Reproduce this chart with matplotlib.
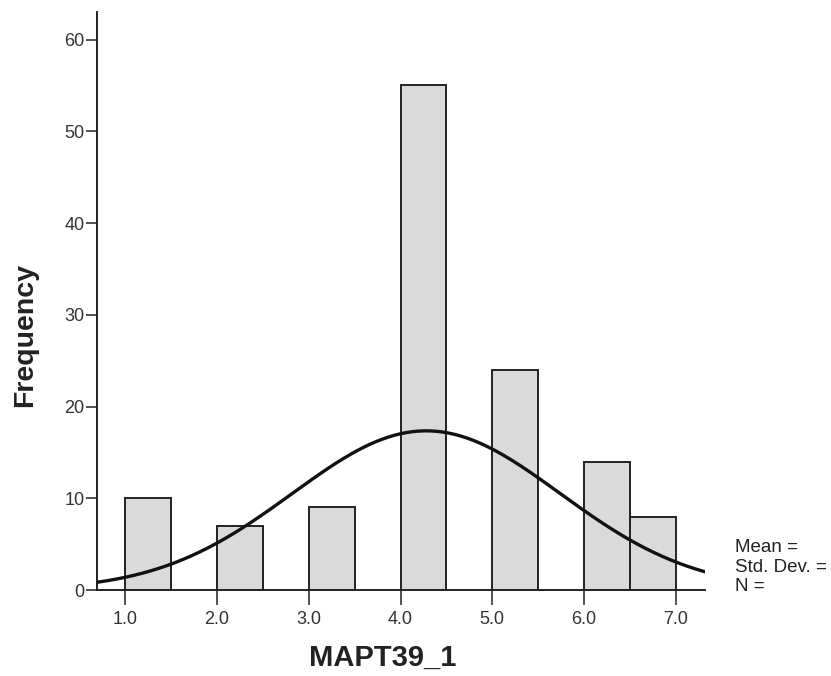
"""
Histogram of MAPT39_1 with fitted normal curve
"""
import numpy as np
import matplotlib.pyplot as plt

# bin left edges and counts
bin_left = [1.0, 2.0, 3.0, 4.0, 5.0, 6.0, 6.5]
counts = [10, 7, 9, 55, 24, 14, 8]
bin_width = 0.5

# normal curve parameters (estimated from the curve)
curve_mean = 4.28
curve_sd = 1.46

x_ticks = [1.0, 2.0, 3.0, 4.0, 5.0, 6.0, 7.0]
y_ticks = [0, 10, 20, 30, 40, 50, 60]

plt.rcParams['font.family'] = ['Liberation Sans', 'DejaVu Sans']

fig = plt.figure(figsize=(8.31, 6.76), dpi=100)
ax = fig.add_axes([0.1167, 0.1272, 0.7317, 0.855])

ax.bar(bin_left, counts, width=bin_width, align='edge',
       color='#dadada', edgecolor='#222222', linewidth=1.4, zorder=2)

n_total = sum(counts)
xs = np.linspace(0.69, 7.32, 300)
ys = n_total * bin_width / (curve_sd * np.sqrt(2 * np.pi)) * \
    np.exp(-0.5 * ((xs - curve_mean) / curve_sd) ** 2)
ax.plot(xs, ys, color='#111111', linewidth=2.4, zorder=3)

ax.set_xlim(0.69, 7.32)
ax.set_ylim(0, 63)
ax.set_xticks(x_ticks)
ax.set_xticklabels([f'{t:.1f}' for t in x_ticks])
ax.set_yticks(y_ticks)

for side in ['top', 'right']:
    ax.spines[side].set_visible(False)
for side in ['left', 'bottom']:
    ax.spines[side].set_color('#222222')
    ax.spines[side].set_linewidth(1.4)

ax.tick_params(axis='x', direction='out', length=11, width=1.2,
               colors='#333333', labelsize=13, pad=4)
ax.tick_params(axis='y', direction='out', length=8, width=1.2,
               colors='#333333', labelsize=13, pad=1)

ax.set_xlabel('MAPT39_1', fontsize=21, fontweight='bold', color='#222222')
ax.set_ylabel('Frequency', fontsize=20.5, fontweight='bold', color='#222222')
ax.xaxis.set_label_coords(0.47, -0.093)
ax.yaxis.set_label_coords(-0.097, 0.441)

# stats box, cut off at the right edge
fig.text(0.884, 0.1834, 'Mean =', fontsize=13.5, color='#222222')
fig.text(0.884, 0.1538, 'Std. Dev. =', fontsize=13.5, color='#222222')
fig.text(0.884, 0.1260, 'N =', fontsize=13.5, color='#222222')

plt.savefig('out.png', dpi=100)
